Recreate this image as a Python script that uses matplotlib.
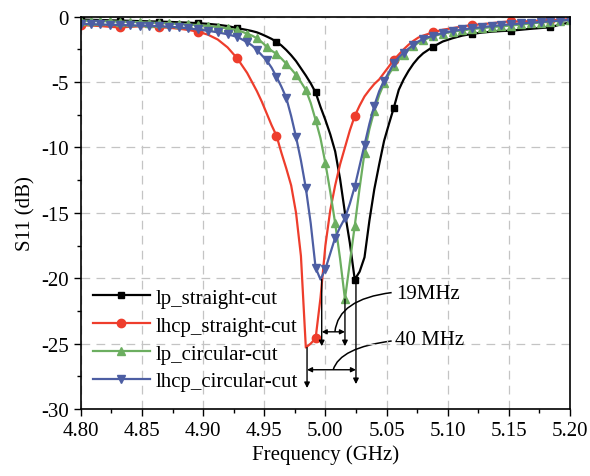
import numpy as np
import matplotlib
matplotlib.use("Agg")
import matplotlib.pyplot as plt
from matplotlib.path import Path
from matplotlib.patches import PathPatch

plt.rcParams['font.family'] = ['Liberation Serif', 'DejaVu Serif']
plt.rcParams['font.size'] = 15
plt.rcParams['axes.unicode_minus'] = False

# frequency grid (GHz): coarse on the flat parts, finer around the dips
freq = np.round(np.concatenate([np.arange(4.800, 4.937, 0.008),
                                np.arange(4.940, 5.081, 0.004),
                                np.arange(5.088, 5.201, 0.008)]), 3)

# S11 (dB)
lp_straight = [
    -0.22, -0.24, -0.26, -0.28, -0.30, -0.32, -0.34, -0.36, -0.38, -0.40,
    -0.43, -0.46, -0.50, -0.55, -0.62, -0.72, -0.88, -1.02,
    -1.10, -1.20, -1.35, -1.52, -1.70, -1.93, -2.20, -2.55, -2.95, -3.40,
    -3.95, -4.50, -5.10, -5.80, -6.90, -7.90, -9.00, -10.3, -12.4, -15.0,
    -17.3, -20.1, -19.5, -18.4, -15.6, -13.2, -11.3, -9.50, -8.20, -6.95,
    -5.60, -4.80, -4.15, -3.60, -3.15, -2.80,
    -2.30, -1.90, -1.65, -1.45, -1.32, -1.22, -1.15, -1.10, -1.07, -1.00,
    -0.93, -0.87, -0.82, -0.60, -0.45]
lhcp_straight = [
    -0.65, -0.68, -0.72, -0.78, -0.82, -0.78, -0.74, -0.75, -0.80, -0.85,
    -0.92, -1.02, -1.15, -1.38, -1.75, -2.35, -3.20, -4.30,
    -5.00, -5.70, -6.50, -7.40, -8.30, -9.10, -10.4, -11.6, -12.9, -15.0,
    -18.3, -25.3, -25.0, -24.6, -21.5, -17.5, -14.8, -12.9, -11.3, -10.0,
    -8.70, -7.60, -6.80, -6.10, -5.60, -5.15, -4.80, -4.30, -3.80, -3.30,
    -2.90, -2.50, -2.15, -1.85, -1.60, -1.45,
    -1.20, -1.00, -0.88, -0.75, -0.64, -0.58, -0.50, -0.42, -0.35, -0.38,
    -0.33, -0.30, -0.28, -0.22, -0.20]
lp_circular = [
    -0.30, -0.32, -0.34, -0.36, -0.38, -0.40, -0.42, -0.45, -0.48, -0.52,
    -0.56, -0.60, -0.65, -0.72, -0.80, -0.90, -1.02, -1.30,
    -1.45, -1.65, -1.95, -2.30, -2.60, -2.85, -3.20, -3.60, -4.00, -4.45,
    -5.00, -5.60, -6.60, -7.90, -9.30, -11.2, -13.4, -15.8, -18.5, -21.6,
    -18.8, -16.0, -13.1, -10.4, -8.60, -7.20, -6.00, -5.10, -4.40, -3.80,
    -3.30, -2.90, -2.55, -2.25, -2.00, -1.80,
    -1.50, -1.30, -1.15, -1.05, -0.95, -0.88, -0.80, -0.74, -0.68, -0.60,
    -0.52, -0.45, -0.38, -0.32, -0.27]
lhcp_circular = [
    -0.55, -0.57, -0.60, -0.62, -0.64, -0.66, -0.68, -0.70, -0.73, -0.77,
    -0.82, -0.90, -0.98, -1.08, -1.20, -1.35, -1.55, -1.95,
    -2.20, -2.55, -2.95, -3.35, -3.90, -4.60, -5.35, -6.20, -7.60, -9.20,
    -11.0, -13.1, -15.8, -19.2, -20.1, -19.3, -18.1, -16.9, -16.1, -15.4,
    -14.3, -13.0, -11.4, -9.80, -8.20, -6.80, -5.70, -4.90, -4.25, -3.55,
    -3.10, -2.75, -2.45, -2.15, -1.90, -1.70,
    -1.45, -1.25, -1.10, -0.98, -0.88, -0.80, -0.72, -0.65, -0.58, -0.52,
    -0.46, -0.40, -0.35, -0.30, -0.25]

labels = ["lp_straight-cut", "lhcp_straight-cut", "lp_circular-cut", "lhcp_circular-cut"]
colors = ["#000000", "#ee3d2c", "#6cae60", "#4d5ea3"]
markers = ["s", "o", "^", "v"]
msizes = [4.5, 6, 5.5, 5.5]

# marker spacing: every 32 MHz for straight-cut, every 8 MHz for circular-cut
k = np.round((freq - 4.8) * 1000).astype(int)
marks = [k % 32 == 0, k % 32 == 0, k % 8 == 0, k % 8 == 0]

fig = plt.figure(figsize=(5.9, 4.77), dpi=100)
ax = fig.add_axes([0.137, 0.1405, 0.829, 0.8225])

for y, lab, c, m, ms, me in zip([lp_straight, lhcp_straight, lp_circular, lhcp_circular],
                                labels, colors, markers, msizes, marks):
    ax.plot(freq, y, color=c, lw=1.6, marker=m, ms=ms, markevery=list(me), label=lab)

ax.set_xlim(4.80, 5.20)
ax.set_ylim(-30, 0)
ax.set_xticks(np.arange(4.80, 5.201, 0.05))
ax.set_xticklabels(["%.2f" % v for v in np.arange(4.80, 5.201, 0.05)])
ax.set_yticks(np.arange(-30, 1, 5))
ax.set_xticks(np.arange(4.825, 5.2, 0.05), minor=True)
ax.set_yticks(np.arange(-27.5, 0, 5), minor=True)
ax.tick_params(which='major', direction='out', length=5, width=1)
ax.tick_params(which='minor', direction='out', length=3, width=1)
ax.grid(True, which='major', color='#c4c4c4', ls=(0, (7, 5)), lw=0.9)
for s in ax.spines.values():
    s.set_linewidth(1.2)

ax.set_xlabel("Frequency (GHz)", labelpad=3)
ax.set_ylabel("S11 (dB)", labelpad=4)

# bandwidth shift annotations
arr = dict(arrowstyle='-|>', color='k', lw=1, mutation_scale=8, shrinkA=0, shrinkB=0)
dbl = dict(arrowstyle='<|-|>', color='k', lw=1, mutation_scale=7, shrinkA=0, shrinkB=0)
ax.annotate("", xy=(4.997, -25.2), xytext=(4.997, -20.1), arrowprops=arr)
ax.annotate("", xy=(5.016, -25.2), xytext=(5.016, -21.6), arrowprops=arr)
ax.annotate("", xy=(4.985, -28.4), xytext=(4.985, -25.3), arrowprops=arr)
ax.annotate("", xy=(5.025, -28.1), xytext=(5.025, -20.1), arrowprops=arr)
ax.annotate("", xy=(4.997, -24.1), xytext=(5.016, -24.1), arrowprops=dbl)
ax.annotate("", xy=(4.985, -27.0), xytext=(5.025, -27.0), arrowprops=dbl)

lead1 = Path([(5.0078, -24.1), (5.0105, -21.6), (5.0542, -21.1)],
             [Path.MOVETO, Path.CURVE3, Path.CURVE3])
lead2 = Path([(5.0064, -27.0), (5.0118, -25.3), (5.0542, -24.8)],
             [Path.MOVETO, Path.CURVE3, Path.CURVE3])
ax.add_patch(PathPatch(lead1, fill=False, lw=1.1, color='k'))
ax.add_patch(PathPatch(lead2, fill=False, lw=1.1, color='k'))
ax.text(5.058, -21.2, "19MHz", va='center', ha='left')
ax.text(5.057, -24.7, "40 MHz", va='center', ha='left')

ax.legend(loc='upper left', bbox_to_anchor=(0.0, 0.34), frameon=False,
          borderaxespad=0.2, handlelength=2.7, handletextpad=0.3, labelspacing=0.4)

fig.savefig("out.png", dpi=100)
